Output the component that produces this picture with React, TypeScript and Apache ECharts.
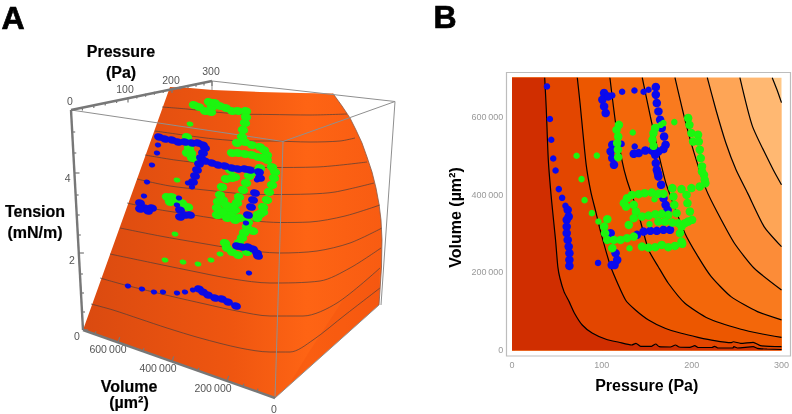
import React, { useEffect, useRef } from "react";
import * as echarts from "echarts";

// ---------- Panel B: contour plot, data in (pressure Pa, volume µm²) ----------
const contour1 = [[36.4,700000],[38.2,617700],[40.4,489000],[44,386000],[48.5,283000],[51,215000],[53.4,185000],[58,150000],[63.6,125000],[69.4,95900],[78.2,65000],[89.2,44500],[104.7,28300],[119,20600],[133.3,13600],[138,18000],[143.2,10300],[155.3,10300],[160,16200],[164,9300],[176.3,8500],[182,13600],[186,8500],[198,7700],[203.5,11800],[207,7200],[222.5,7200],[225.5,10300],[229,5900],[245.7,5900],[247,9300],[251,5900],[268.5,9300],[273,5100],[284,3300],[300,2000]];
const contour2 = [[72.7,700000],[75.7,635800],[82.6,476000],[88,404000],[93.6,353000],[99,301500],[110,214000],[126.4,129300],[137.4,103600],[152,77900],[170.4,56600],[188.4,43700],[207,33400],[225.5,24700],[243.8,19500],[246.4,22000],[254.5,18000],[268.5,20600],[276.5,11800],[300,9300]];
const contour3 = [[109,700000],[115.3,584000],[122.3,489000],[127.8,438000],[141,348000],[152,258000],[163,214000],[174,172200],[192.5,120800],[218.1,82300],[254.8,54000],[278.7,41900],[300,33400]];
const contour4 = [[145,700000],[154,600500],[163,507000],[171.9,425000],[192.5,300800],[207.1,240600],[221.8,189200],[243.8,137800],[273.2,99200],[300,78000]];
const contour5 = [[181.4,700000],[191.7,599700],[202.7,507000],[216.3,412000],[229.1,352000],[247.6,275000],[269.6,210800],[300,155000]];
const contour6 = [[217.4,700000],[227,617700],[238,533000],[249.4,463500],[262.3,403600],[280.6,317700],[300,266000]];
const contour7 = [[253.7,700000],[267.7,575000],[290.8,463500],[300,425000]];
const contour8 = [[289.7,700000],[295,669000],[300,636000]];
const contours = [contour1, contour2, contour3, contour4, contour5, contour6, contour7, contour8];
const bandColors = ["#d02e00","#e34600","#ec5700","#f3670a","#f97a1e","#fc8c38","#fea556","#ffb872","#ffc887"];

const blueBSparse = [[38.9,677600],[42.2,593800],[43.7,540600],[45.9,492600],[48.5,461700],[52.1,413900],[55.8,391500],[59.5,371000],[95.8,224400],[152,669000],[146.5,664000],[136.3,667000],[122.6,664000],[111.6,654500],[136.6,523400],[122,530000]];
const blueBTraces = [[62,360700],[63.1,343500],[60.9,335000],[60.9,317700],[60.9,300800],[62,283500],[63.1,266400],[63.9,249400],[63.9,232000],[63.9,216700],[114.2,219000],[117.1,232000],[115.3,249400],[109.8,300800],[111,219000],[139.1,296400],[146.5,304900],[153.9,306700],[161.2,306700],[168.6,309300],[175.9,309300],[161.2,463500],[163,446300],[166,425000],[168.6,390700],[171,373500],[173.3,360700],[160.1,676000],[160.1,656300],[161.2,635000],[163,613400],[164.9,592000],[166.7,570700],[169.3,549000],[171,527800],[168.6,516700],[163,510500],[155.7,513000],[148.4,513000],[141,506400],[135.5,504600],[159.4,502000],[160.1,480700],[162.3,455000],[102.5,660700],[100.6,643400],[102.5,626200],[104.3,609300],[107.2,652000],[111.6,527800],[109.8,510500],[111.6,493600],[113.5,476400]];
const greenBSparse = [[134.4,559400],[71.9,499500],[94.4,500000],[168.6,583500],[165.6,579000],[180.7,586000],[158.6,388000],[153.1,323900],[96.2,330600],[88.9,352200],[80.8,385600],[77.4,439600],[130.8,262200]];
const greenBTraces = [[119,579000],[116.4,566000],[118.2,549000],[117.1,532000],[117.9,515000],[118.2,496000],[159.4,570700],[157.5,557800],[156.4,540600],[157.5,525000],[196.1,596400],[197.5,579000],[199.7,557800],[201.6,536000],[207.1,553500],[207.9,536000],[209,515000],[210.1,493600],[211.5,472000],[213.7,450600],[211.5,459000],[214.5,437800],[215.2,429000],[209,420600],[199.7,416500],[188.7,414000],[194.3,399000],[195.3,378000],[198,356300],[200.5,335000],[196.1,330600],[192.5,326500],[178.5,416500],[179.6,394900],[180.7,373500],[183.2,352200],[185,326500],[187,300800],[188.7,279200],[168.6,401800],[163,401800],[155.7,405000],[147.6,403600],[141,401000],[133.6,399000],[128.1,390700],[124.5,377900],[127,369000],[135.5,373500],[138,356300],[135.5,339300],[130,322000],[144.7,343500],[152,346000],[159.4,349600],[166.7,350400],[174,347800],[163,330600],[170.4,330600],[178.5,328000],[188.7,317700],[144.7,266300],[152,263800],[159.4,264800],[166.7,270700],[174,264800],[181.4,268000],[189.5,273300],[106.1,336800],[102.5,317700],[103.6,300800],[106.1,283500],[111.6,262200],[113.5,283500],[120.8,283500],[128.1,287900],[135.5,292000]];
const volumeTicksB = [0, 200000, 400000, 600000];

// ---------- Panel A: the 3D view, data on its projected view plane ----------
const surfaceOutline = [[170,87],[190,88],[213,90],[260,92],[300,93],[333,93.5],[342,106],[350,118],[356,130],[362,143],[367,157],[372,172],[376,188],[379,204],[381,220],[382,240],[381.5,267],[380,290],[379,305],[275,398],[83,330]];
const surfaceEdge = [[333,93.5],[342,106],[350,118],[356,130],[362,143],[367,157],[372,172],[376,188],[379,204],[381,220],[382,240],[381.5,267],[380,290],[379,305]];
const surfaceFold = [[309,352],[343,300],[379,270],[379,305],[290,383]];
const surfaceContours = [
  [[162,107],[187,109],[215,112],[240,114],[270,114.5],[310,115],[347,114]],
  [[155,131],[187,135.5],[215,139],[245,141],[270,141],[310,142],[340,141],[355,138]],
  [[145,155],[175,160],[210,164],[245,167],[270,167.5],[317,167],[367,162]],
  [[137,179],[170,186],[205,190],[245,194],[270,194.5],[310,194],[335,192],[374,183]],
  [[127,203],[155,209],[187,214],[220,219],[253,221],[280,222.5],[310,222],[345,216],[380,205]],
  [[120,228],[160,236],[200,243],[237,249],[280,253],[317,251],[350,243],[382,228]],
  [[110,254],[153,263],[187,270],[233,279],[270,283],[320,281],[350,268],[381,248]],
  [[100,278],[125,285],[170,296],[205,304],[237,311],[270,316],[303,316],[337,303],[380,268]],
  [[91,304],[113,310],[140,319],[167,328],[200,338],[240,348],[270,352],[290,352],[313,340],[345,315],[380,288]],
];
const boxEdges = [
  [[212,81],[395,101.5]],
  [[71,110],[283,141.5]],
  [[283,141.5],[395,101.5]],
  [[283,141.5],[275,398]],
  [[395,101.5],[381,305]],
  [[212,81],[212,90]],
  [[275,398],[379,305]],
];
const pressureAxis = [[71,110],[212,81]];
const tensionAxis = [[71,110],[83,330]];
const volumeAxis = [[83,330],[275,398]];
const pressureTicks = [[71,110,1],[82.4,107.5,0],[93.8,105,0],[105.2,102.5,0],[116.6,100,0],[128,97.5,1],[136.8,95.6,0],[145.6,93.7,0],[154.4,91.8,0],[163.2,89.9,0],[172,88,1],[180,86.6,0],[188,85.2,0],[196,83.8,0],[204,82.4,0],[212,81,1]];
const tensionTicks = [[72.2,132,0],[73.3,153,0],[74.4,173,1],[75.6,195,0],[76.7,215,0],[77.8,235,0],[78.8,253,1],[79.9,274,0],[81,293,0],[82,312,0],[83,330,1]];
const volumeTicks = [[95,334.2,0],[118,342.4,1],[143,351.3,0],[172,361.5,1],[198,370.7,0],[227,381,1],[243,386.7,0],[257,391.6,0]];
const greenATraces = [[194,105],[199,107],[205,111],[211,112],[212,107],[209,102],[215,103],[220,106],[226,108],[232,111],[238,111],[246,111],[246,117],[245,123],[243,130],[242,137],[237,143],[245,142],[252,145],[260,147],[264,150],[267,155],[267,160],[232,153],[238,153],[245,154],[252,155],[258,157],[263,158],[272,167],[275,172],[274,178],[272,185],[269,192],[267,200],[263,207],[260,214],[257,218],[260,168],[253,172],[249,176],[246,183],[243,190],[239,197],[237,203],[235,210],[233,217],[222,187],[220,195],[218,202],[217,208],[217,215],[223,200],[227,210],[230,215],[233,207],[218,215],[227,218],[235,220],[240,218],[222,212],[226,205],[230,170],[232,178],[226,179],[235,177],[187,137],[189,148],[187,153],[192,158],[197,160],[191,153],[167,197],[172,197],[177,202],[182,203],[188,207],[170,202],[253,231],[247,227],[248,222],[244,233],[242,238],[239,243],[225,243],[227,248],[232,252],[238,255],[247,252],[263,212],[258,215]];
const greenASparse = [[190,124],[177,180],[175,234],[165,260],[183,262],[198,264],[211,260],[220,254]];
const blueATraces = [[159,137],[165,139],[172,140],[178,142],[185,142],[192,143],[198,143],[203,145],[205,148],[203,153],[201,158],[205,161],[212,163],[218,165],[225,166],[232,168],[238,169],[245,169],[250,170],[199,164],[197,170],[195,176],[193,182],[140,203],[145,208],[152,208],[140,209],[148,211],[255,193],[253,200],[251,207],[248,215],[259,172],[260,178],[180,210],[185,215],[190,215],[180,217],[237,246],[242,247],[248,247],[253,249],[257,253],[258,256],[199,289],[203,292],[208,295],[215,298],[222,299],[228,302],[236,306]];
const blueASparse = [[188,183],[192,187],[158,145],[157,153],[152,165],[147,182],[144,196],[257,180],[246,223],[179,198],[177,205],[249,273],[128,286],[142,289],[154,292],[163,292],[177,293],[185,292],[193,290]];

const labelFont = "'Liberation Sans', Arial, sans-serif";

function App() {
  const ref = useRef<HTMLDivElement>(null);
  useEffect(() => {
    document.body.style.margin = "0";
    const chart = echarts.init(ref.current!, undefined, { renderer: "svg" });
    const thousands = (v: number) => (v === 0 ? "0" : `${v / 1000}\u2009000`);

    const polyItem = (pts: number[][], fill: any, api: any, stroke?: string) => ({
      type: "polygon",
      shape: { points: pts.map((p) => api.coord(p)) },
      style: { fill, stroke: stroke || "none", lineWidth: stroke ? 0.7 : 0 },
    });
    const viewLine = (d: number[][], color: string, width: number, smooth: boolean | number = false, z = 3) => ({
      type: "line", xAxisIndex: 0, yAxisIndex: 0, data: d, showSymbol: false, symbol: "none", silent: true, z,
      lineStyle: { color, width }, smooth, clip: false,
    });
    const ticksSeries = (ticks: number[][], dx: number, dy: number, color: string) => ({
      type: "custom", xAxisIndex: 0, yAxisIndex: 0, silent: true, z: 5, clip: false,
      data: ticks,
      renderItem: (_: any, api: any) => {
        const s = api.coord([api.value(0), api.value(1)]);
        const k = api.value(2) ? 1.7 : 1;
        return { type: "line", shape: { x1: s[0], y1: s[1], x2: s[0] + dx * k, y2: s[1] + dy * k }, style: { stroke: color, lineWidth: 1.2 } };
      },
    });
    const txt = (text: string, x: number, y: number, size: number, color: string, bold = false, heavy = 0) => ({
      type: "text", x, y, silent: true,
      style: { text, fontSize: size, fill: color, fontFamily: labelFont, fontWeight: bold ? "bold" : "normal", textAlign: "center", textVerticalAlign: "middle", stroke: heavy ? color : undefined, lineWidth: heavy },
    });
    const marks = (d: number[][], size: any, color: string, x: number, z: number) => ({
      type: "scatter", xAxisIndex: x, yAxisIndex: x, data: d, symbolSize: size, symbolRotate: x === 0 ? -15 : 0, silent: true, z,
      itemStyle: { color, opacity: 1 },
    });

    chart.setOption({
      animation: false,
      grid: [
        { left: 0, top: 0, width: 792, height: 414 },
        { left: 512, top: 77.7, width: 272.3, height: 272.6 },
      ],
      xAxis: [
        { type: "value", gridIndex: 0, min: 0, max: 792, show: false },
        {
          type: "value", gridIndex: 1, min: 0, max: 300, interval: 100, offset: 5.7,
          axisLine: { show: false }, splitLine: { show: false },
          axisTick: { show: true, inside: true, length: 3, lineStyle: { color: "#bbbbbb" } },
          axisLabel: { color: "#999999", fontSize: 9, fontFamily: labelFont, margin: 4 },
          name: "Pressure (Pa)", nameLocation: "middle", nameGap: 21,
          nameTextStyle: { fontSize: 16, fontWeight: "bold", color: "#000", fontFamily: labelFont },
        },
      ],
      yAxis: [
        { type: "value", gridIndex: 0, min: 0, max: 414, inverse: true, show: false },
        {
          type: "value", gridIndex: 1, min: 0, max: 700000, offset: 5.7,
          axisLine: { show: false }, splitLine: { show: false },
          axisTick: { show: true, inside: true, length: 3, lineStyle: { color: "#bbbbbb" }, customValues: volumeTicksB },
          axisLabel: { color: "#999999", fontSize: 9, fontFamily: labelFont, margin: 3, formatter: thousands, customValues: volumeTicksB },
          name: "Volume (µm²)", nameLocation: "middle", nameGap: 43,
          nameTextStyle: { fontSize: 16, fontWeight: "bold", color: "#000", fontFamily: labelFont, padding: [0, 7, 0, 0] },
        },
      ],
      graphic: [
        { type: "rect", silent: true, shape: { x: 506.5, y: 72.5, width: 284, height: 283.5 }, style: { fill: "none", stroke: "#bdbdbd", lineWidth: 1.2 } },
        txt("A", 13, 17.5, 32, "#000", true, 0.7),
        txt("B", 445, 17, 32, "#000", true, 0.7),
        txt("Pressure", 121, 51, 16, "#000", true, 0.2),
        txt("(Pa)", 121, 72, 16, "#000", true, 0.2),
        txt("Tension", 35, 211, 16, "#000", true, 0.2),
        txt("(mN/m)", 35, 232, 16, "#000", true, 0.2),
        txt("Volume", 129, 386, 16, "#000", true, 0.2),
        txt("(µm²)", 129, 402.5, 16, "#000", true, 0.2),
        txt("0", 70, 101, 10.5, "#555"),
        txt("100", 125, 89, 10.5, "#555"),
        txt("200", 171, 79.5, 10.5, "#555"),
        txt("300", 211, 71, 10.5, "#555"),
        txt("4", 67.7, 177.7, 10.5, "#555"),
        txt("2", 72, 260, 10.5, "#555"),
        txt("0", 77, 336, 10.5, "#555"),
        txt("600\u2009000", 108, 349, 10.5, "#555"),
        txt("400\u2009000", 158, 368, 10.5, "#555"),
        txt("200\u2009000", 213, 388, 10.5, "#555"),
        txt("0", 274, 409, 10.5, "#555"),
      ],
      series: [
        // Panel A
        {
          type: "custom", xAxisIndex: 0, yAxisIndex: 0, silent: true, z: 1, clip: false, data: [[0, 0]],
          renderItem: (_: any, api: any) => ({
            type: "group",
            children: [
              polyItem(surfaceOutline, new echarts.graphic.LinearGradient(0, 0, 1, 0, [
                { offset: 0, color: "#da4a10" },
                { offset: 0.5, color: "#ef5610" },
                { offset: 0.75, color: "#fe6414" },
                { offset: 1, color: "#f85c12" },
              ]), api),
              polyItem(surfaceFold, "rgba(235,75,10,0.22)", api),
            ],
          }),
        },
        ...surfaceContours.map((c) => viewLine(c, "rgba(70,60,60,0.75)", 0.9, 0.3, 2)),
        viewLine(surfaceEdge, "#8a5a48", 0.8, false, 2),
        ...boxEdges.map((e) => viewLine(e, "#8f8f8f", 1, false, 3)),
        viewLine(pressureAxis, "#777777", 2.4, false, 4),
        viewLine(tensionAxis, "#777777", 2.4, false, 4),
        viewLine(volumeAxis, "#777777", 2.4, false, 4),
        ticksSeries(pressureTicks, 0, 3, "#777777"),
        ticksSeries(tensionTicks, 3, 0, "#777777"),
        ticksSeries(volumeTicks, 1, -3, "#777777"),
        marks(greenATraces, [10.5, 8], "#1cf50f", 0, 6),
        marks(greenASparse, [7, 5], "#1cf50f", 0, 6),
        marks(blueATraces, [10, 7.5], "#0a0ae6", 0, 7),
        marks(blueASparse, [6.5, 5], "#0a0ae6", 0, 7),
        // Panel B
        {
          type: "custom", xAxisIndex: 1, yAxisIndex: 1, silent: true, z: 1,
          data: [8, 7, 6, 5, 4, 3, 2, 1, 0].map((i) => [i]),
          encode: { x: 0 },
          renderItem: (_: any, api: any) => {
            const i = api.value(0);
            const pts = i === 8
              ? [[0, 700000], [300, 700000], [300, 0], [0, 0]]
              : [...contours[i], [300, 0], [0, 0], [0, 700000]];
            return polyItem(pts, bandColors[i], api);
          },
        },
        ...contours.map((c) => ({
          type: "line", xAxisIndex: 1, yAxisIndex: 1, data: c, showSymbol: false, symbol: "none", silent: true, z: 2,
          lineStyle: { color: "#000", width: 1.2 }, smooth: 0.2,
        })),
        marks(blueBSparse, 6.5, "#0a0aee", 1, 3),
        marks(blueBTraces, 8.5, "#0a0aee", 1, 3),
        marks(greenBSparse, 6.5, "#1cf50f", 1, 4),
        marks(greenBTraces, 8.5, "#1cf50f", 1, 4),
      ],
    });
    return () => chart.dispose();
  }, []);
  return <div ref={ref} style={{ position: "fixed", left: 0, top: 0, width: 792, height: 414 }} />;
}

export default App;
